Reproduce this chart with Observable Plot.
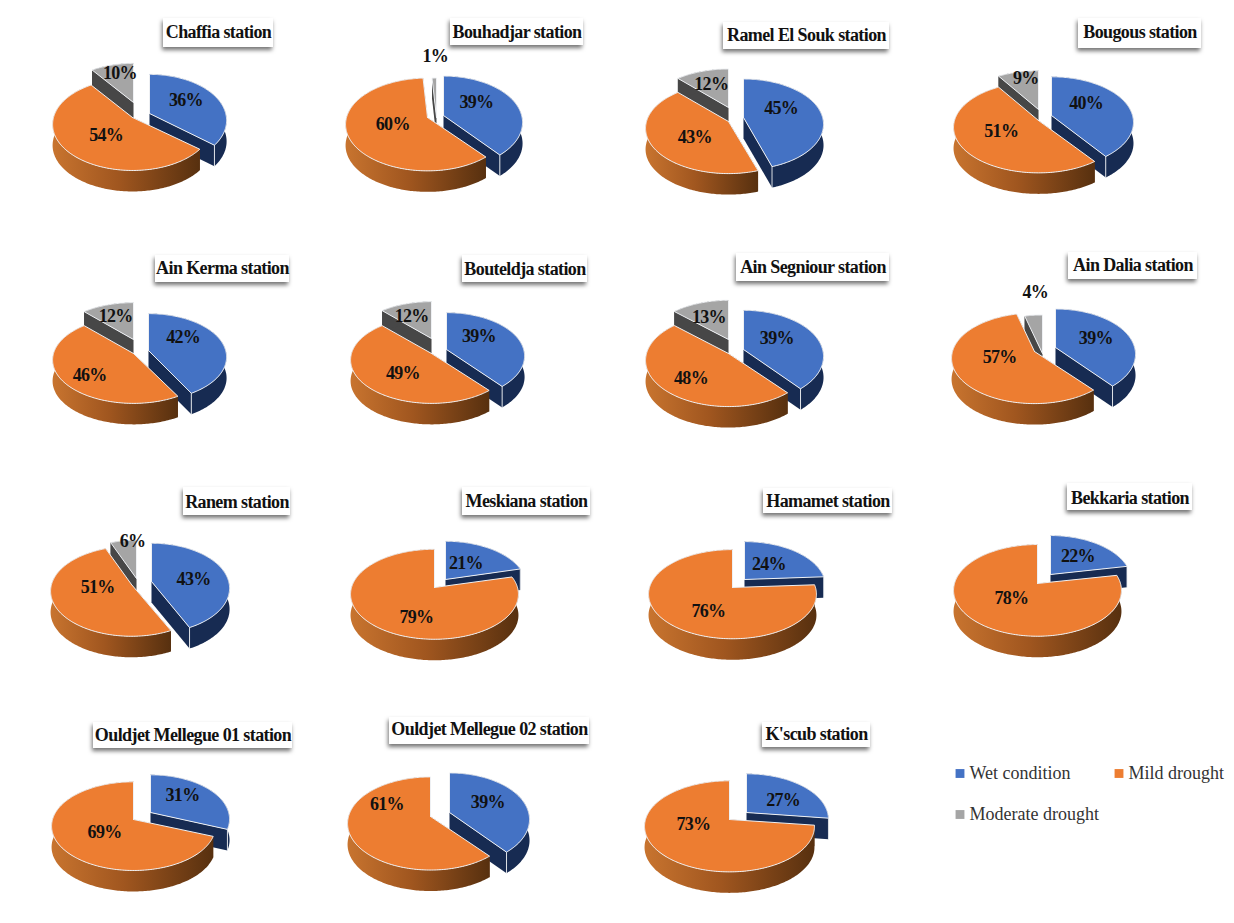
<!DOCTYPE html>
<html>
<head>
<meta charset="utf-8">
<style>
  html, body { margin: 0; padding: 0; background: #fff; }
  svg { display: block; }
  .pct text { letter-spacing: -0.7px; }
  .plate text { letter-spacing: -0.6px; }
</style>
<script src="https://cdn.jsdelivr.net/npm/d3@7"></script>
<script src="https://cdn.jsdelivr.net/npm/@observablehq/plot@0.6"></script>
</head>
<body>
<div id="chart"></div>
<script>
// Share of each drought class per station, in percent
const stations = ["Chaffia station", "Bouhadjar station", "Ramel El Souk station", "Bougous station",
  "Ain Kerma station", "Bouteldja station", "Ain Segniour station", "Ain Dalia station",
  "Ranem station", "Meskiana station", "Hamamet station", "Bekkaria station",
  "Ouldjet Mellegue 01 station", "Ouldjet Mellegue 02 station", "K'scub station"];
const wet      = [36, 39, 45, 40, 42, 39, 39, 39, 43, 21, 24, 22, 31, 39, 27];
const mild     = [54, 60, 43, 51, 46, 49, 48, 57, 51, 79, 76, 78, 69, 61, 73];
const moderate = [10,  1, 12,  9, 12, 12, 13,  4,  6,  0,  0,  0,  0,  0,  0];
const classes = ["Wet condition", "Mild drought", "Moderate drought"];

// Page layout: where each exploded slice's point sits, in page pixels [wet, mild, moderate]
const pivots = [
  [[149, 113], [132, 117], [133, 102]],
  [[443, 115], [427, 117], [436, 117]],
  [[743, 117], [728, 121], [728, 107]],
  [[1051, 115], [1038, 120], [1038, 109]],
  [[148, 350], [133, 353], [133, 339]],
  [[446, 349], [431, 353], [431, 338]],
  [[743, 349], [728, 353], [728, 339]],
  [[1055, 347], [1034, 351], [1042, 353]],
  [[151, 581], [131, 584], [136, 578]],
  [[445, 579], [434, 587]],
  [[744, 579], [732, 587]],
  [[1050, 574], [1037, 583]],
  [[150, 812], [133, 819]],
  [[449, 812], [430, 816]],
  [[746, 812], [729, 819]]
];
const radii = [79, 81, 82, 84, 80, 80, 82, 82, 80, 83, 83, 83, 81, 82, 84];
const tilts = [.57, .56, .54, .53, .53, .53, .55, .54, .55, .53, .525, .54, .535, .555, .53];
// The right-hand slice reads slightly narrower than the rest of the disc
const classWidth = [0.965, 1, 1];
// Distance of each percentage from its slice's point, as a fraction of the radius
const labelReach = [
  [.5, .5, .7], [.5, .5, 1.55], [.5, .5, .62], [.5, .5, .85],
  [.5, .5, .7], [.5, .5, .7], [.5, .5, .62], [.5, .5, 1.6],
  [.5, .5, 1], [.55, .5], [.55, .5], [.55, .5],
  [.55, .5], [.5, .5], [.55, .5]
];
// Hand placement of the percentages, in pixels off the slice's middle line
const labelNudge = [
  [[3, -4], [4, 1], [2, -2]], [[-3, -6], [4, -2], [2, -4]], [[-1, -6], [3, 4], [0, 0]], [[-3, -6], [-1, -2], [5, 1]],
  [[-2, -8], [-10, 9], [1, 2]], [[-3, -6], [3, 5], [-1, 3]], [[-3, -4], [-6, 8], [-1, 1]], [[4, -2], [3, -5], [6, -4]],
  [[5, 2], [4, -6], [9, 0]], [[-5, 2], [9, 11]], [[-4, 1], [6, 7]], [[1, 0], [2, -4]],
  [[-2, -4], [6, 0]], [[2, -3], [-4, -20]], [[5, 3], [-3, -11]]
];
// Title plates: left, right, top, bottom, and the text's vertical centre
const plates = [
  [163, 273, 18, 47, 32], [450, 583, 18, 45, 32], [723, 889, 22, 49, 35], [1078, 1201, 18, 48, 32],
  [155, 289, 255, 282, 268], [462, 587, 255, 282, 269], [736, 889, 253, 281, 267], [1068, 1197, 252, 279, 265],
  [183, 290, 487, 515, 502], [462, 590, 487, 515, 501], [763, 892, 488, 513, 501], [1067, 1192, 483, 510, 498],
  [93, 292, 722, 748, 735], [389, 589, 717, 744, 729], [762, 870, 722, 747, 734]
];
const legendSpots = [[955, 773], [1114, 773], [955, 814]];

// Colours for the top face and side wall of each class
const topColors = ["#4472c4", "#ed7d31", "#a5a5a5"];
const wallColors = ["#172b52", "url(#mildWall)", "#474747"];
const edgeColors = ["#172b52", "#5e300f", "#474747"];
const rim = "#eef0f3";

// Oblique view of a disc: perspective of the tilted plane and wall height
const perspective = 0.15, depth = 21;
const serif = "Liberation Serif, Times New Roman, serif";

function project([px, py], r, tilt, widen, angle, reach = 1, drop = 0) {
  const u = Math.sin(angle) * reach, v = -Math.cos(angle) * reach;
  const s = 1 / (1 - perspective * v);
  return [px + r * widen * u * s, py + r * tilt * v * s + drop];
}

function arcPoints(pivot, r, tilt, widen, a0, a1, drop = 0) {
  const steps = Math.max(2, Math.ceil((a1 - a0) / (Math.PI / 180)));
  return d3.range(steps + 1).map(i => project(pivot, r, tilt, widen, a0 + (a1 - a0) * i / steps, 1, drop));
}

// Painter's list of outlines, far slices first
const outlines = [];
let nextId = 0;
function addOutline(points, fill, stroke, strokeWidth) {
  const id = nextId++;
  points.forEach(([x, y]) => outlines.push({id, x, y, fill, stroke, strokeWidth}));
}

const labels = [];
stations.forEach((station, i) => {
  const shares = [wet[i], mild[i], moderate[i]];
  const r = radii[i], tilt = tilts[i];
  let start = 0;
  const slices = shares.map((share, c) => {
    const a0 = start / 100 * 2 * Math.PI;
    start += share;
    return {c, share, a0, a1: start / 100 * 2 * Math.PI};
  }).filter(d => d.share > 0);

  d3.sort(slices, d => -Math.cos((d.a0 + d.a1) / 2)).forEach(({c, a0, a1}) => {
    const pivot = pivots[i][c], widen = classWidth[c];
    const apexLow = [pivot[0], pivot[1] + depth];
    const top = arcPoints(pivot, r, tilt, widen, a0, a1);
    const low = arcPoints(pivot, r, tilt, widen, a0, a1, depth);
    const first = top[0], last = top[top.length - 1];
    // Cut faces, then the curved wall, then the lid
    addOutline([pivot, first, low[0], apexLow, pivot], edgeColors[c], "none", 0);
    addOutline([pivot, last, low[low.length - 1], apexLow, pivot], edgeColors[c], "none", 0);
    addOutline([...top, ...low.slice().reverse(), top[0]], wallColors[c], "none", 0);
    if (c === 0) addOutline([last, low[low.length - 1]], "none", rim, 0.9);
    addOutline([pivot, ...top, pivot], topColors[c], rim, 1);
  });

  slices.forEach(({c, share, a0, a1}) => {
    const [x, y] = project(pivots[i][c], r, tilt, classWidth[c], (a0 + a1) / 2, labelReach[i][c]);
    const [dx, dy] = labelNudge[i][c];
    labels.push({x: x + dx, y: y + dy, text: `${share}%`});
  });
});

const titleRows = stations.map((text, i) => {
  const [x1, x2, y1, y2, y] = plates[i];
  return {text, x1, x2, y1, y2, x: (x1 + x2) / 2, y};
});
const legendRows = classes.map((text, c) => ({text, c, x: legendSpots[c][0], y: legendSpots[c][1]}));

// Gradient used on the curved wall of the mild-drought slices
function wallGradient() {
  const ns = "http://www.w3.org/2000/svg";
  const defs = document.createElementNS(ns, "defs");
  const grad = document.createElementNS(ns, "linearGradient");
  grad.setAttribute("id", "mildWall");
  [["0%", "#c8742f"], ["45%", "#a0561f"], ["100%", "#57300f"]].forEach(([offset, color]) => {
    const stop = document.createElementNS(ns, "stop");
    stop.setAttribute("offset", offset);
    stop.setAttribute("stop-color", color);
    grad.appendChild(stop);
  });
  defs.appendChild(grad);
  return defs;
}

const chart = Plot.plot({
  width: 1234, height: 923,
  margin: 0,
  style: {background: "#fff"},
  x: {axis: null, domain: [0, 1234], range: [0, 1234]},
  y: {axis: null, domain: [0, 923], range: [0, 923]},
  color: {type: "identity"},
  marks: [
    wallGradient,
    Plot.line(outlines, {x: "x", y: "y", z: "id", fill: "fill", stroke: "stroke", strokeWidth: "strokeWidth"}),
    Plot.text(labels, {x: "x", y: "y", text: "text", className: "pct", fontFamily: serif, fontWeight: "bold", fontSize: 18, fill: "#111"}),
    Plot.rect(titleRows, {x1: "x1", x2: "x2", y1: "y1", y2: "y2", fill: "#fff",
      imageFilter: "drop-shadow(-1px 3px 2px rgba(0,0,0,.55))"}),
    Plot.text(titleRows, {x: "x", y: "y", text: "text", className: "plate", fontFamily: serif, fontWeight: "bold", fontSize: 18, fill: "#111"}),
    Plot.dot(legendRows, {x: d => d.x + 4.5, y: "y", symbol: "square", r: 5, fill: d => topColors[d.c]}),
    Plot.text(legendRows, {x: d => d.x + 14, y: "y", text: "text", textAnchor: "start", fontFamily: serif, fontSize: 18, fill: "#333"})
  ]
});
document.getElementById("chart").appendChild(chart);
</script>
</body>
</html>
